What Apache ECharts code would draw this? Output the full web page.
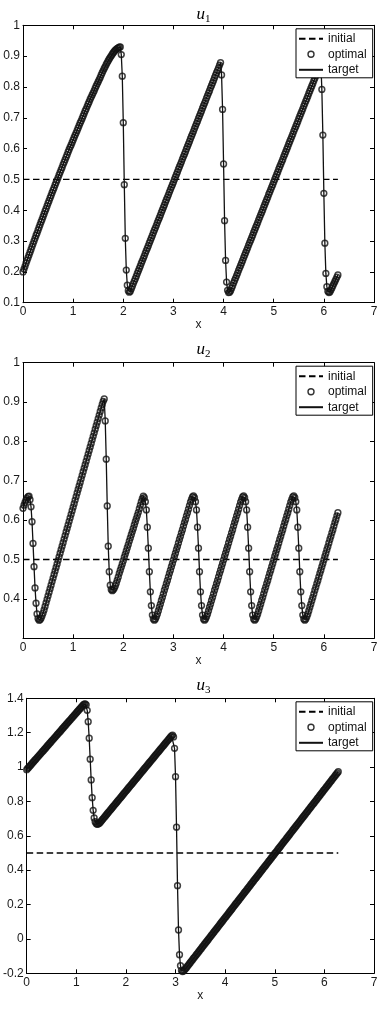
<!DOCTYPE html>
<html><head><meta charset="utf-8">
<script src="https://cdn.jsdelivr.net/npm/echarts@6.0.0/dist/echarts.min.js"></script>
<style>html,body{margin:0;padding:0;background:#fff}#c{width:382px;height:1009px}</style>
</head><body><div id="c"></div>
<script>
// sampling step of the plotted points along x (circles are evenly spaced)
const X_STEP = 0.02;
const legendNames = ['initial', 'optimal', 'target'];
const initialX = [0, 6.28];
const initialU = [0.5, 0.5];
const subscripts = ['1', '2', '3'];

const u1Values = [
0.200,0.209,0.218,0.228,0.237,0.246,0.255,0.264,0.273,0.282,0.291,0.300,0.309,0.318,0.326,0.335,0.344,0.353,0.362,0.370,0.379,0.388,0.397,0.405,0.414,0.423,
0.431,0.440,0.448,0.457,0.465,0.473,0.482,0.490,0.498,0.506,0.515,0.523,0.531,0.539,0.548,0.556,0.564,0.572,0.580,0.589,
0.597,0.605,0.612,0.620,0.628,0.636,0.644,0.651,0.659,0.667,0.675,0.683,0.690,0.698,0.706,0.714,0.722,0.729,0.737,0.745,
0.752,0.760,0.767,0.774,0.781,0.788,0.796,0.803,0.810,0.817,0.824,0.831,0.839,0.846,0.853,
0.860,0.866,0.873,0.879,0.885,0.891,0.896,0.901,0.906,0.911,
0.915,0.919,0.922,0.925,0.927,0.929,0.930,
0.905,0.835,0.684,0.483,0.309,0.206,0.157,0.139,0.134,0.137,
0.145,0.153,0.162,0.170,0.178,0.186,0.195,0.203,0.211,0.219,
0.228,0.236,0.244,0.252,0.261,0.269,0.277,0.285,0.294,0.302,
0.310,0.318,0.327,0.335,0.343,0.351,0.360,0.368,0.376,0.384,
0.393,0.401,0.409,0.417,0.426,0.434,0.442,0.450,0.459,0.467,
0.475,0.483,0.491,0.500,0.508,0.516,0.524,0.533,0.541,0.549,
0.557,0.566,0.574,0.582,0.590,0.599,0.607,0.615,0.623,0.632,
0.640,0.648,0.656,0.665,0.673,0.681,0.689,0.698,0.706,0.714,
0.722,0.731,0.739,0.747,0.755,0.764,0.772,0.780,0.788,0.797,
0.805,0.813,0.821,0.830,0.838,0.846,0.854,0.862,0.871,0.879,
0.839,0.727,0.550,0.366,0.237,0.167,0.140,0.133,0.134,0.139,
0.147,0.155,0.164,0.172,0.180,0.188,0.196,0.205,0.213,0.221,
0.229,0.237,0.246,0.254,0.262,0.270,0.278,0.287,0.295,0.303,
0.311,0.319,0.328,0.336,0.344,0.352,0.360,0.369,0.377,0.385,
0.393,0.401,0.410,0.418,0.426,0.434,0.442,0.451,0.459,0.467,
0.475,0.483,0.492,0.500,0.508,0.516,0.524,0.533,0.541,0.549,
0.557,0.565,0.574,0.582,0.590,0.598,0.606,0.615,0.623,0.631,
0.639,0.647,0.656,0.664,0.672,0.680,0.688,0.697,0.705,0.713,
0.721,0.729,0.738,0.746,0.754,0.762,0.770,0.779,0.787,0.795,
0.803,0.811,0.820,0.828,0.836,0.844,0.852,0.861,0.869,0.877,
0.792,0.644,0.455,0.293,0.195,0.152,0.137,0.133,0.135,0.141,0.148,0.155,0.162,0.169,0.176,0.183,0.190
];

const u2Values = [
0.630,0.638,0.645,0.651,0.656,0.660,0.661,0.652,0.634,0.596,0.541,0.482,0.428,0.389,0.362,0.350,0.346,0.347,0.351,0.357,0.364,
0.372,0.381,0.390,0.399,0.408,0.417,0.426,0.435,0.444,0.453,
0.462,0.471,0.480,0.489,0.498,0.507,0.516,0.525,0.534,0.543,
0.552,0.561,0.570,0.579,0.588,0.597,0.606,0.615,0.624,0.633,
0.642,0.651,0.660,0.669,0.678,0.687,0.696,0.705,0.714,0.723,
0.732,0.741,0.750,0.759,0.768,0.777,0.786,0.795,0.804,0.813,
0.822,0.831,0.840,0.849,0.858,0.867,0.876,0.885,0.894,
0.902,0.908,0.852,0.755,0.636,0.534,0.469,0.435,0.424,0.421,0.423,0.427,0.433,
0.440,0.448,0.456,0.465,0.473,0.481,0.489,0.497,0.506,0.514,
0.522,0.530,0.538,0.547,0.555,0.563,0.571,0.579,0.588,0.596,
0.604,0.612,0.620,0.629,0.638,0.647,0.655,0.661,
0.657,0.647,0.626,0.582,0.529,0.469,0.418,0.383,0.359,0.349,0.346,
0.349,0.355,0.362,0.370,0.379,0.387,0.396,0.404,0.413,0.422,
0.430,0.439,0.447,0.456,0.465,0.473,0.482,0.490,0.499,0.508,
0.516,0.525,0.533,0.542,0.551,0.559,0.568,0.576,0.585,0.594,
0.602,0.611,0.619,0.628,0.637,0.646,0.653,0.659,0.662,
0.657,0.647,0.626,0.582,0.529,0.469,0.418,0.383,0.359,0.349,0.346,
0.349,0.355,0.362,0.370,0.379,0.387,0.396,0.404,0.413,0.422,
0.430,0.439,0.447,0.456,0.465,0.473,0.482,0.490,0.499,0.508,
0.516,0.525,0.533,0.542,0.551,0.559,0.568,0.576,0.585,0.594,
0.602,0.611,0.619,0.628,0.637,0.646,0.653,0.659,0.662,
0.657,0.647,0.626,0.582,0.529,0.469,0.418,0.383,0.359,0.349,0.346,
0.349,0.355,0.362,0.370,0.379,0.387,0.396,0.404,0.413,0.422,
0.430,0.439,0.447,0.456,0.465,0.473,0.482,0.490,0.499,0.508,
0.516,0.525,0.533,0.542,0.551,0.559,0.568,0.576,0.585,0.594,
0.602,0.611,0.619,0.628,0.637,0.646,0.653,0.659,0.662,
0.657,0.647,0.626,0.582,0.529,0.469,0.418,0.383,0.359,0.349,0.346,
0.349,0.355,0.362,0.370,0.379,0.387,0.396,0.404,0.413,0.422,
0.430,0.439,0.447,0.456,0.465,0.473,0.482,0.490,0.499,0.508,
0.516,0.525,0.533,0.542,0.551,0.559,0.568,0.576,0.585,0.594,
0.602,0.611,0.619
];

const u3Values = [
0.985,0.992,0.998,1.005,1.011,1.018,1.025,1.031,1.038,1.044,
1.051,1.058,1.064,1.071,1.077,1.084,1.091,1.097,1.104,1.110,
1.117,1.124,1.130,1.137,1.143,1.150,1.157,1.163,1.170,1.176,
1.183,1.190,1.196,1.203,1.209,1.216,1.223,1.229,1.236,1.242,
1.249,1.256,1.262,1.269,1.275,1.282,1.289,1.295,1.302,1.308,
1.315,1.322,1.328,1.335,1.341,1.348,1.355,1.361,
1.366,1.368,1.362,1.330,1.264,1.168,1.046,0.925,0.822,0.748,0.704,0.682,0.671,0.667,0.668,0.672,0.678,0.685,
0.692,0.699,0.706,0.713,0.720,0.727,0.734,0.741,0.748,0.755,
0.762,0.769,0.776,0.783,0.790,0.797,0.804,0.811,0.818,0.825,
0.832,0.839,0.846,0.853,0.860,0.867,0.874,0.881,0.888,0.895,
0.902,0.909,0.916,0.923,0.930,0.937,0.944,0.951,0.958,0.965,
0.972,0.979,0.986,0.993,1.000,1.007,1.014,1.021,1.028,1.035,
1.042,1.049,1.056,1.063,1.070,1.077,1.084,1.091,1.098,1.105,
1.112,1.119,1.126,1.133,1.140,1.147,1.154,1.161,1.168,1.175,
1.181,1.186,1.175,1.109,0.944,0.650,0.310,0.052,-0.092,-0.156,-0.183,-0.190,-0.187,-0.181,
-0.174,-0.167,-0.159,-0.152,-0.144,-0.137,-0.129,-0.122,-0.114,-0.107,
-0.100,-0.092,-0.085,-0.077,-0.070,-0.062,-0.055,-0.047,-0.040,-0.032,
-0.025,-0.018,-0.010,-0.003,0.005,0.012,0.020,0.027,0.035,0.042,
0.050,0.057,0.064,0.072,0.079,0.087,0.094,0.102,0.109,0.117,
0.124,0.131,0.139,0.146,0.154,0.161,0.169,0.176,0.184,0.191,
0.199,0.206,0.213,0.221,0.228,0.236,0.243,0.251,0.258,0.266,
0.273,0.280,0.288,0.295,0.303,0.310,0.318,0.325,0.333,0.340,
0.348,0.355,0.362,0.370,0.377,0.385,0.392,0.400,0.407,0.415,
0.422,0.429,0.437,0.444,0.452,0.459,0.467,0.474,0.482,0.489,
0.497,0.504,0.511,0.519,0.526,0.534,0.541,0.549,0.556,0.564,
0.571,0.578,0.586,0.593,0.601,0.608,0.616,0.623,0.631,0.638,
0.646,0.653,0.660,0.668,0.675,0.683,0.690,0.698,0.705,0.713,
0.720,0.727,0.735,0.742,0.750,0.757,0.765,0.772,0.780,0.787,
0.794,0.802,0.809,0.817,0.824,0.832,0.839,0.847,0.854,0.862,
0.869,0.876,0.884,0.891,0.899,0.906,0.914,0.921,0.929,0.936,
0.943,0.951,0.958,0.966,0.973
];

// layout of the three panels
const panels = [
  {values: u1Values, sub: subscripts[0], yMin: 0.1, yMax: 1, yStep: 0.1, top: 25.3, height: 277.4, titleBase: 20, hide: []},
  {values: u2Values, sub: subscripts[1], yMin: 0.3, yMax: 1, yStep: 0.1, top: 362.7, height: 275.6, titleBase: 355, hide: [0.3]},
  {values: u3Values, sub: subscripts[2], yMin: -0.2, yMax: 1.4, yStep: 0.2, top: 698.3, height: 275, titleBase: 691, hide: []}
];

const FONT = '"Liberation Sans", Arial, sans-serif';
const SERIF = '"Liberation Serif", "DejaVu Serif", serif';
const INK = '#000';
const NOFILL = 'rgba(0,0,0,0)';
const toXY = vals => vals.map((v, i) => [Math.round(i * X_STEP * 100) / 100, v]);

const chart = echarts.init(document.getElementById('c'), null, {renderer: 'canvas'});
const option = {animation: false, backgroundColor: '#fff', grid: [], xAxis: [], yAxis: [], series: [], legend: [], graphic: []};

panels.forEach((p, k) => {
  option.grid.push({left: 23, width: 351, top: p.top, height: p.height, containLabel: false});
  const common = {
    axisLine: {show: true, onZero: false, lineStyle: {color: '#000', width: 1}},
    axisTick: {show: true, inside: true, length: 4, lineStyle: {color: '#000', width: 1}},
    splitLine: {show: false}
  };
  const labelStyle = {fontSize: 12, fontFamily: FONT, color: '#1a1a1a', margin: 3};
  option.xAxis.push(Object.assign({type: 'value', gridIndex: k, position: 'bottom', min: 0, max: 7, interval: 1,
    axisLabel: labelStyle, name: 'x', nameLocation: 'middle', nameGap: 16,
    nameTextStyle: {fontSize: 12, fontFamily: FONT, color: '#1a1a1a'}}, common));
  option.xAxis.push(Object.assign({type: 'value', gridIndex: k, position: 'top', min: 0, max: 7, interval: 1,
    axisLabel: {show: false}}, common));
  option.yAxis.push(Object.assign({type: 'value', gridIndex: k, position: 'left', min: p.yMin, max: p.yMax, interval: p.yStep,
    axisLabel: Object.assign({}, labelStyle, {formatter: v => {
      const r = Math.round(v * 1000) / 1000;
      return p.hide.indexOf(r) >= 0 ? '' : String(r);
    }})}, common));
  option.yAxis.push(Object.assign({type: 'value', gridIndex: k, position: 'right', min: p.yMin, max: p.yMax, interval: p.yStep,
    axisLabel: {show: false}}, common));

  const ax = 2 * k;
  option.series.push({name: legendNames[0], type: 'line', xAxisIndex: ax, yAxisIndex: ax,
    data: initialX.map((x, j) => [x, initialU[j]]), symbol: 'none', itemStyle: {color: INK},
    lineStyle: {color: INK, width: 1.4, type: [6.5, 3.5]}, silent: true, z: 2});
  option.series.push({name: legendNames[2], type: 'line', xAxisIndex: ax, yAxisIndex: ax,
    data: toXY(p.values), symbol: 'none', itemStyle: {color: INK},
    lineStyle: {color: '#111', width: 1.3}, silent: true, z: 2});
  option.series.push({name: legendNames[1], type: 'scatter', xAxisIndex: ax, yAxisIndex: ax,
    data: toXY(p.values), symbol: 'circle', symbolSize: 5.8,
    itemStyle: {color: NOFILL, borderColor: '#111', borderWidth: 1.5}, silent: true, z: 3});

  option.legend.push({
    left: 296, top: p.top + 3.5, orient: 'vertical', selectedMode: false,
    padding: [4, 6, 2, 2], itemGap: 3.5, itemWidth: 24, itemHeight: 6,
    backgroundColor: '#fff', borderColor: '#000', borderWidth: 1, borderRadius: 0,
    textStyle: {fontSize: 12, fontFamily: FONT, color: '#111', lineHeight: 12},
    data: [
      {name: legendNames[0], itemStyle: {color: NOFILL, borderColor: NOFILL, borderWidth: 0}},
      {name: legendNames[1], icon: 'circle', itemStyle: {color: NOFILL, borderColor: '#000', borderWidth: 1.4}},
      {name: legendNames[2], itemStyle: {color: NOFILL, borderColor: NOFILL, borderWidth: 0}}
    ]
  });

  option.graphic.push({type: 'text', x: 205, y: p.titleBase + 3, z: 10,
    style: {text: 'u', font: 'italic 17px ' + SERIF, fill: '#000', align: 'right', verticalAlign: 'bottom'}});
  option.graphic.push({type: 'text', x: 205, y: p.titleBase + 4.5, z: 10,
    style: {text: p.sub, font: '11px ' + SERIF, fill: '#000', align: 'left', verticalAlign: 'bottom'}});
});

chart.setOption(option);
</script>
</body></html>
